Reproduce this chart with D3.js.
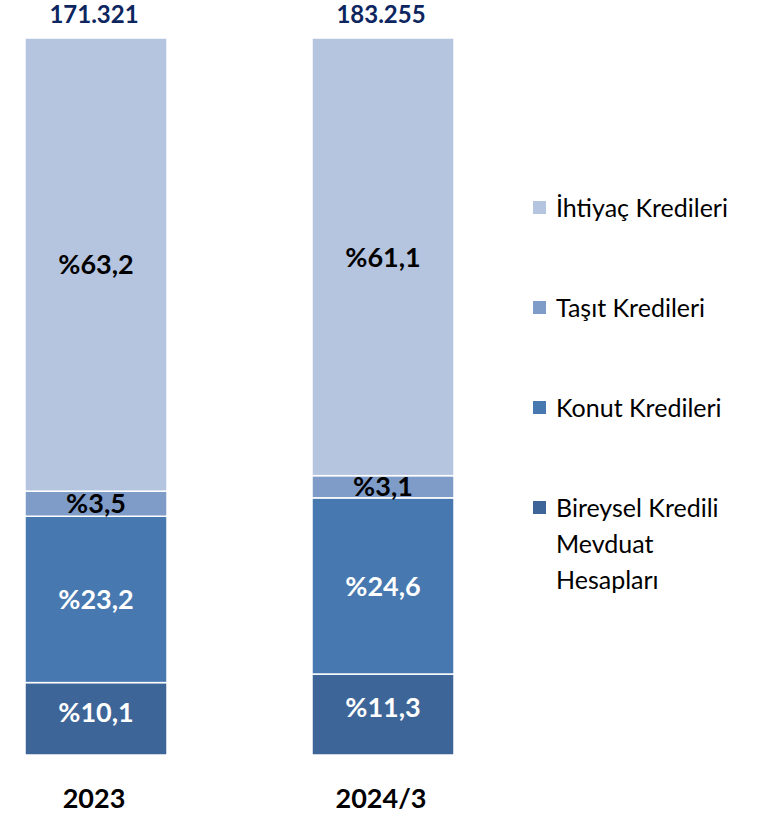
<!DOCTYPE html>
<html><head><meta charset="utf-8">
<script src="https://cdn.jsdelivr.net/npm/d3@7"></script>
<style>body{margin:0;background:#fff}svg{display:block}</style>
</head><body>
<script>
const categories = ["2023", "2024/3"];
const totals = ["171.321", "183.255"];
const series = ["Bireysel Kredili Mevduat Hesapları", "Konut Kredileri", "Taşıt Kredileri", "İhtiyaç Kredileri"];
const bireysel = [10.1, 11.3];
const konut = [23.2, 24.6];
const tasit = [3.5, 3.1];
const ihtiyac = [63.2, 61.1];
const legendOrder = ["İhtiyaç Kredileri", "Taşıt Kredileri", "Konut Kredileri", "Bireysel Kredili Mevduat Hesapları"];
const legendLines = {"Bireysel Kredili Mevduat Hesapları": ["Bireysel Kredili", "Mevduat", "Hesapları"]};

const colors = {"İhtiyaç Kredileri": "#b5c4df", "Taşıt Kredileri": "#7f9cc8", "Konut Kredileri": "#4878b0", "Bireysel Kredili Mevduat Hesapları": "#3e6597"};
const textColors = {"İhtiyaç Kredileri": "#000", "Taşıt Kredileri": "#000", "Konut Kredileri": "#fff", "Bireysel Kredili Mevduat Hesapları": "#fff"};

const W = 764, H = 815;
const font = "Lato, 'Noto Sans', sans-serif";
const svg = d3.select("body").append("svg").attr("width", W).attr("height", H).style("font-family", font);

const table = categories.map((c, i) => ({
  cat: c,
  "Bireysel Kredili Mevduat Hesapları": bireysel[i],
  "Konut Kredileri": konut[i],
  "Taşıt Kredileri": tasit[i],
  "İhtiyaç Kredileri": ihtiyac[i]
}));
const stacked = d3.stack().keys(series).offset(d3.stackOffsetExpand)(table);

const bw = 142;
const xPos = d3.scalePoint().domain(categories).range([25, 312]);
const y = d3.scaleLinear().domain([0, 1]).range([755, 38]);

const g = svg.append("g");
stacked.forEach((layer, li) => {
  const key = layer.key;
  g.selectAll(null).data(layer).join("rect")
    .attr("x", d => xPos(d.data.cat))
    .attr("width", bw)
    .attr("y", d => y(d[1]))
    .attr("height", d => y(d[0]) - y(d[1]))
    .attr("fill", colors[key])
    .attr("stroke", "#fff").attr("stroke-width", 1.5);
  g.selectAll(null).data(layer).join("text")
    .attr("x", d => xPos(d.data.cat) + bw / 2)
    .attr("y", d => (y(d[0]) + y(d[1])) / 2 - (li === 0 ? 7 : 0))
    .attr("dy", "0.36em")
    .attr("text-anchor", "middle")
    .attr("font-size", 27).attr("font-weight", 700)
    .attr("fill", textColors[key])
    .text(d => "%" + String(d.data[key]).replace(".", ","));
});

// totals
svg.selectAll(null).data(categories).join("text")
  .attr("x", d => xPos(d) + bw / 2 - 2)
  .attr("y", 23)
  .attr("text-anchor", "middle")
  .attr("font-size", 24).attr("font-weight", 700).attr("fill", "#0d2660")
  .text((d, i) => totals[i]);

// categories
svg.selectAll(null).data(categories).join("text")
  .attr("x", d => xPos(d) + bw / 2 - 2)
  .attr("y", 808)
  .attr("text-anchor", "middle")
  .attr("font-size", 27).attr("font-weight", 700).attr("fill", "#000")
  .text(d => d);

// legend
const leg = svg.append("g");
const ly = d3.scalePoint().domain(legendOrder).range([208, 508]);
legendOrder.forEach(k => {
  leg.append("rect").attr("x", 533).attr("y", ly(k) - 7).attr("width", 13).attr("height", 13).attr("fill", colors[k]);
  const lines = legendLines[k] || [k];
  lines.forEach((t, j) => {
    leg.append("text").attr("x", 556).attr("y", ly(k) + j * 36).attr("dy", "0.36em")
      .attr("font-size", 25).attr("fill", "#000").text(t);
  });
});
</script>
</body></html>
